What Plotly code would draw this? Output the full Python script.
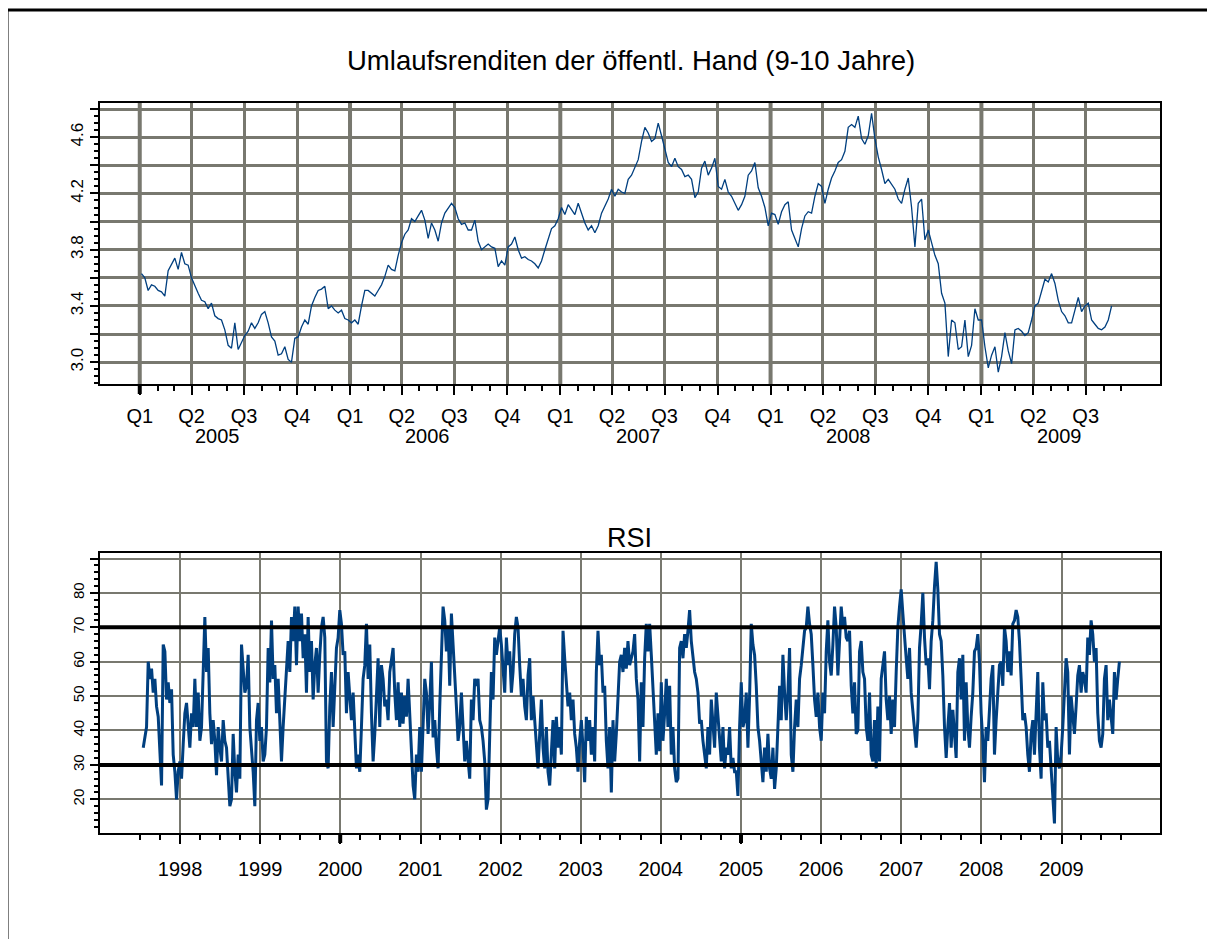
import pandas as pd
import plotly.graph_objects as go

# ---------------- data ----------------
# Umlaufsrendite (%), readings evenly spaced from 2005-01-04 to 2009-08-15
yield_2005_2006 = [
    3.63, 3.60, 3.51, 3.55, 3.54, 3.51, 3.50, 3.47, 3.65, 3.70,
    3.74, 3.66, 3.78, 3.70, 3.69, 3.60, 3.54, 3.49, 3.44, 3.43,
    3.38, 3.42, 3.33, 3.31, 3.30, 3.23, 3.12, 3.10, 3.28, 3.09,
    3.14, 3.19, 3.22, 3.28, 3.24, 3.28, 3.34, 3.36, 3.28, 3.18,
    3.15, 3.05, 3.06, 3.11, 3.02, 3.00, 3.17, 3.18, 3.25, 3.30,
    3.27, 3.40, 3.46, 3.51, 3.52, 3.54, 3.38, 3.40, 3.37, 3.35,
    3.37, 3.31, 3.30, 3.28, 3.30, 3.27, 3.40, 3.51, 3.51, 3.49,
    3.47, 3.51, 3.55, 3.61, 3.69, 3.66, 3.65, 3.76, 3.85, 3.91,
    3.94, 4.02, 4.00, 4.04, 4.08, 4.01, 3.88, 3.99, 3.94, 3.86,
    3.99, 4.06, 4.10, 4.13, 4.10, 4.02, 3.98, 3.99, 3.94, 3.94,
    4.01, 3.86, 3.80, 3.82, 3.84,
]
yield_2006_2008 = [
    3.82, 3.81, 3.68, 3.72, 3.69, 3.82, 3.84, 3.89, 3.80, 3.74,
    3.75, 3.73, 3.72, 3.70, 3.67, 3.72, 3.80, 3.88, 3.95, 3.97,
    4.02, 4.10, 4.05, 4.12, 4.08, 4.05, 4.13, 4.06, 3.99, 3.94,
    3.97, 3.92, 3.97, 4.06, 4.11, 4.16, 4.23, 4.18, 4.23, 4.21,
    4.20, 4.30, 4.33, 4.38, 4.44, 4.57, 4.67, 4.63, 4.57, 4.59,
    4.70, 4.61, 4.51, 4.42, 4.39, 4.45, 4.39, 4.37, 4.32, 4.33,
    4.30, 4.17, 4.21, 4.38, 4.43, 4.33, 4.38, 4.45, 4.25, 4.23,
    4.30, 4.21, 4.18, 4.13, 4.08, 4.12, 4.18, 4.33, 4.36, 4.42,
    4.24, 4.18, 4.10, 3.97, 4.06, 4.05, 3.98, 4.07, 4.12, 4.14,
    3.94, 3.88, 3.82, 3.95, 4.04, 4.07, 4.06, 4.18, 4.27, 4.25,
    4.13, 4.23, 4.31, 4.36, 4.42, 4.44, 4.50, 4.67, 4.69, 4.67,
    4.75, 4.59, 4.55, 4.61, 4.77, 4.59, 4.46,
]
yield_2008_2009 = [
    4.37, 4.27, 4.30, 4.26, 4.23, 4.16, 4.13, 4.23, 4.31, 4.10,
    3.82, 4.13, 4.16, 3.87, 3.94, 3.85, 3.76, 3.70, 3.49, 3.42,
    3.04, 3.30, 3.28, 3.09, 3.11, 3.30, 3.04, 3.12, 3.38, 3.30,
    3.30, 3.11, 2.96, 3.05, 3.11, 2.93, 3.04, 3.21, 3.08, 2.99,
    3.23, 3.24, 3.22, 3.19, 3.21, 3.30, 3.40, 3.42, 3.51, 3.59,
    3.57, 3.63, 3.56, 3.44, 3.36, 3.33, 3.28, 3.28, 3.37, 3.46,
    3.36, 3.40, 3.42, 3.30, 3.27, 3.24, 3.23, 3.25, 3.30, 3.40,
]

# RSI, readings evenly spaced from 1997-07-17 to 2009-09-22
rsi_1997_2001 = [
    35, 38, 41, 60, 55, 58, 51, 55, 47, 44,
    32, 24, 65, 63, 49, 54, 48, 52, 33, 28,
    20, 28, 31, 26, 36, 45, 48, 41, 35, 45,
    41, 55, 41, 51, 37, 41, 61, 73, 57, 64,
    45, 36, 43, 37, 27, 41, 35, 31, 43, 37,
    35, 28, 18, 20, 39, 28, 22, 33, 26, 65,
    59, 51, 53, 62, 41, 35, 28, 18, 43, 48,
    37, 41, 31, 33, 41, 64, 54, 72, 55, 59,
    45, 55, 43, 31, 41, 49, 55, 66, 57, 73,
    66, 76, 59, 76, 66, 74, 61, 68, 51, 73,
    57, 66, 49, 59, 64, 51, 62, 70, 73, 67,
    31, 29, 47, 57, 41, 52, 64, 67, 75, 71,
    62, 63, 45, 57, 49, 43, 51, 39, 29, 33,
    28, 41, 55, 59, 71, 55, 65, 45, 31, 39,
    53, 61, 41, 59, 55, 47, 49, 43, 57, 61,
    64, 51, 43, 54, 41, 51, 42, 50, 44, 55,
    44, 37, 24, 20, 33, 28, 41, 28, 43, 55,
    51, 39, 48, 60, 38, 43, 35, 29, 47, 59,
    76, 72, 63, 70, 53, 74, 66, 55, 47, 37,
    41, 51, 39, 31, 37, 31, 26, 49, 43, 55,
    53,
]
rsi_2001_2006 = [
    55, 43, 41, 37, 31, 17, 20, 41, 57, 49,
    67, 62, 66, 70, 65, 57, 51, 67, 59, 63,
    51, 57, 68, 73, 70, 59, 50, 55, 47, 43,
    56, 61, 43, 50, 41, 36, 29, 41, 49, 35,
    29, 41, 28, 24, 33, 43, 29, 44, 35, 41,
    33, 69, 61, 53, 47, 51, 43, 49, 39, 35,
    28, 37, 43, 35, 25, 44, 37, 43, 33, 41,
    31, 57, 69, 59, 62, 51, 53, 37, 29, 41,
    22, 43, 31, 39, 51, 60, 62, 57, 64, 58,
    66, 59, 61, 63, 68, 55, 49, 31, 54, 41,
    61, 71, 63, 71, 62, 52, 39, 33, 45, 34,
    54, 37, 45, 55, 41, 53, 33, 41, 29, 25,
    26, 64, 66, 61, 68, 64, 69, 75, 66, 61,
    57, 55, 51, 42, 43, 37, 33, 29, 41, 33,
    49, 41, 35, 51, 45, 39, 31, 41, 29, 35,
    33, 41, 29, 32, 28, 28, 21, 41, 54, 41,
    43, 51, 35, 50, 71, 65, 62, 53, 41, 37,
    31, 25, 35, 28, 39, 29, 26, 35, 23, 29,
    41, 53, 43, 62, 51, 43, 51, 64, 33, 28,
    41, 49, 41, 55, 59, 64, 69, 70, 76, 71,
    68, 59, 49, 44, 51, 41, 37, 51, 45, 63,
    72, 60, 56, 65, 76, 70, 56, 66, 76, 70,
    73, 67, 66, 69, 53, 45, 54, 39, 40, 63,
    66, 57, 55, 41,
]
rsi_2006_2009 = [
    37, 51, 33, 31, 43, 29, 47, 31, 55, 59,
    63, 49, 43, 50, 39, 49, 41, 57, 70, 76,
    81, 74, 66, 61, 55, 64, 51, 45, 41, 35,
    43, 64, 71, 80, 67, 59, 61, 52, 66, 72,
    82, 89, 81, 68, 66, 56, 41, 32, 41, 48,
    35, 46, 39, 32, 57, 61, 49, 62, 37, 54,
    41, 35, 44, 51, 63, 64, 68, 60, 45, 37,
    25, 41, 37, 47, 55, 59, 33, 43, 53, 59,
    60, 53, 70, 66, 57, 63, 56, 71, 72, 75,
    73, 66, 55, 43, 45, 41, 33, 28, 39, 43,
    33, 47, 57, 35, 26, 54, 43, 45, 35, 37,
    28, 20, 13, 41, 31, 29, 33, 41, 53, 61,
    57, 33, 50, 43, 39, 47, 56, 59, 51, 57,
    55, 51, 67, 62, 72, 68, 60, 64, 45, 37,
    35, 39, 55, 59, 43, 49, 43, 39, 57, 49,
    55, 60,
]
rsi_levels = [30, 70]

yield_tick_values = [3.0, 3.2, 3.4, 3.6, 3.8, 4.0, 4.2, 4.4, 4.6, 4.8]
yield_tick_labels = ["3.0", "", "3.4", "", "3.8", "", "4.2", "", "4.6", ""]
rsi_tick_values = [20, 30, 40, 50, 60, 70, 80, 90]
rsi_tick_labels = ["20", "30", "40", "50", "60", "70", "80", ""]
top_years = [2005, 2006, 2007, 2008, 2009]
top_bold_ticks = ["2005-01-01"]
bottom_bold_ticks = ["2000-01-01", "2005-01-01"]

# ---------------- assemble ----------------
yields = yield_2005_2006 + yield_2006_2008 + yield_2008_2009
yield_dates = pd.date_range("2005-01-04", "2009-08-15", periods=len(yields))
rsi = rsi_1997_2001 + rsi_2001_2006 + rsi_2006_2009
rsi_dates = pd.date_range("1997-07-17", "2009-09-22", periods=len(rsi))

quarters_top = pd.date_range("2005-01-01", "2009-07-01", freq="QS")
quarter_labels = [f"Q{d.quarter}" for d in quarters_top]
months_top = pd.date_range("2005-01-01", "2009-09-01", freq="MS")
year_starts_top = pd.date_range("2005-01-01", "2009-01-01", freq="YS")

years_bottom = pd.date_range("1998-01-01", "2009-01-01", freq="YS")
year_labels_bottom = [str(d.year) for d in years_bottom]
quarters_bottom = pd.date_range("1997-07-01", "2009-10-01", freq="QS")

FONT = "Liberation Sans, Arial, Helvetica, sans-serif"
LINE = "#003f7f"
GRID = "#78786f"
# page has an 8px body margin; figure sized to fill the rest of the window
OFF = 8
W, H = 1215 - OFF, 939 - OFF


def fx(px):
    return (px - OFF) / W


def fy(py):
    return 1 - (py - OFF) / H


fig = go.Figure()
fig.add_trace(go.Scatter(x=yield_dates, y=yields, mode="lines",
                         line=dict(color=LINE, width=1.3),
                         xaxis="x", yaxis="y", hoverinfo="skip"))
fig.add_trace(go.Scatter(x=rsi_dates, y=rsi, mode="lines",
                         line=dict(color=LINE, width=3),
                         xaxis="x2", yaxis="y2", hoverinfo="skip"))

common_axis = dict(showline=True, linecolor="black", linewidth=1.5, mirror=True,
                   ticks="outside", tickcolor="black", tickwidth=1.5,
                   zeroline=False, showgrid=True, gridcolor=GRID)

fig.update_layout(
    width=W, height=H, margin=dict(l=0, r=0, t=0, b=0),
    paper_bgcolor="white", plot_bgcolor="white", showlegend=False,
    font=dict(family=FONT, color="black"),
    xaxis=dict(common_axis, domain=[fx(100), fx(1160)], anchor="y",
               range=["2004-10-24", "2009-11-07"], type="date",
               tickmode="array", tickvals=quarters_top, ticktext=quarter_labels,
               ticklen=9, gridwidth=2.5, tickfont=dict(size=20), ticklabelstandoff=4,
               minor=dict(tickmode="array", tickvals=months_top, ticklen=5,
                          tickwidth=1.5, tickcolor="black", showgrid=False)),
    yaxis=dict(common_axis, domain=[fy(384), fy(103)], anchor="x",
               range=[2.845, 4.843], tickmode="array",
               tickvals=yield_tick_values, ticktext=yield_tick_labels,
               ticklen=8, gridwidth=2.5, tickangle=-90, tickfont=dict(size=17),
               minor=dict(dtick=0.05, tick0=3.0, ticklen=4, tickwidth=1.5,
                          tickcolor="black", showgrid=False)),
    xaxis2=dict(common_axis, domain=[fx(100), fx(1160)], anchor="y2",
                range=["1997-01-01", "2010-03-26"], type="date",
                tickmode="array", tickvals=years_bottom, ticktext=year_labels_bottom,
                ticklen=9, gridwidth=2, tickfont=dict(size=20), ticklabelstandoff=8,
                minor=dict(tickmode="array", tickvals=quarters_bottom, ticklen=5,
                           tickwidth=1.5, tickcolor="black", showgrid=False)),
    yaxis2=dict(common_axis, domain=[fy(833), fy(553)], anchor="x2",
                range=[10.2, 91.6], tickmode="array",
                tickvals=rsi_tick_values, ticktext=rsi_tick_labels,
                ticklen=8, gridwidth=2, tickangle=-90, tickfont=dict(size=15),
                minor=dict(dtick=2, tick0=0, ticklen=4, tickwidth=1.5,
                           tickcolor="black", showgrid=False)),
)

# thicker year lines in the upper panel
for d in year_starts_top:
    fig.add_shape(type="line", xref="x", yref="y domain", x0=d, x1=d, y0=0, y1=1,
                  line=dict(color=GRID, width=4), layer="below")

# emphasised tick marks
tick_frac_top = 10 / ((384 - 103))
for d in top_bold_ticks:
    fig.add_shape(type="line", xref="x", yref="y domain", x0=d, x1=d,
                  y0=0, y1=-tick_frac_top, line=dict(color="black", width=4), layer="above")
tick_frac_bottom = 10 / ((833 - 553))
for d in bottom_bold_ticks:
    fig.add_shape(type="line", xref="x2", yref="y2 domain", x0=d, x1=d,
                  y0=0, y1=-tick_frac_bottom, line=dict(color="black", width=4), layer="above")

# RSI reference levels
for lvl in rsi_levels:
    fig.add_shape(type="line", xref="x2 domain", yref="y2", x0=0, x1=1, y0=lvl, y1=lvl,
                  line=dict(color="black", width=4), layer="above")

# year labels beneath the quarter labels
for yr in top_years:
    fig.add_annotation(x=pd.Timestamp(yr, 5, 16), xref="x", y=fy(436), yref="paper",
                       text=str(yr), showarrow=False, font=dict(size=20),
                       xanchor="center", yanchor="middle")

# panel titles
fig.add_annotation(x=fx(631), y=fy(60), xref="paper", yref="paper",
                   text="Umlaufsrenditen der öffentl. Hand (9-10 Jahre)",
                   showarrow=False, font=dict(size=27.5), xanchor="center", yanchor="middle")
fig.add_annotation(x=fx(629), y=fy(538), xref="paper", yref="paper",
                   text="RSI", showarrow=False, font=dict(size=27),
                   xanchor="center", yanchor="middle")

# outer frame
fig.add_shape(type="rect", xref="paper", yref="paper", x0=fx(7), x1=1.05,
              y0=-0.05, y1=fy(10), line=dict(color="black", width=3),
              fillcolor="rgba(0,0,0,0)", layer="above")

fig.write_html("out.html")
